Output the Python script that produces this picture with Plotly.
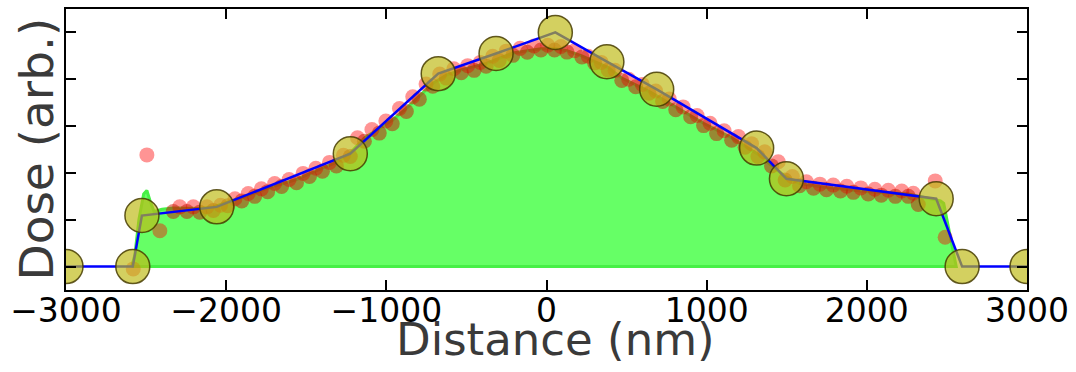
import plotly.graph_objects as go

# ---- data ----
# large control points (also the vertices of the blue profile line)
ctrl_x = [-3000, -2583, -2526, -2059, -1225, -676, -315, 55, 377, 688, 1312, 1498, 2433, 2595, 3000]
ctrl_y = [0.0, 0.0, 0.218, 0.255, 0.482, 0.824, 0.91, 1.0, 0.875, 0.757, 0.506, 0.375, 0.29, 0.0, 0.0]

# lower row of small dots (sit on the green area -> brownish)
low_x = [-2330, -2245, -2165, -2080, -1990, -1903, -1822, -1741, -1654, -1561, -1480, -1399,
         -1312, -1225, -1137, -1044, -963, -875, -794, -710, -625, -532, -452, -377, -295,
         -210, -120, -35, 50, 128, 221, 300, 385, 470, 557, 640, 725, 807, 900, 981, 1062,
         1156, 1240, 1320, 1405, 1490, 1580, 1667, 1748, 1835, 1916, 2009, 2090, 2178, 2259,
         2321]
low_y = [0.235, 0.235, 0.232, 0.24, 0.26, 0.28, 0.3, 0.32, 0.342, 0.358, 0.385, 0.407,
         0.43, 0.47, 0.535, 0.57, 0.61, 0.662, 0.715, 0.77, 0.805, 0.828, 0.838, 0.856, 0.88,
         0.902, 0.915, 0.925, 0.925, 0.916, 0.895, 0.87, 0.84, 0.795, 0.768, 0.74, 0.705, 0.67,
         0.64, 0.602, 0.568, 0.54, 0.51, 0.47, 0.43, 0.37, 0.345, 0.335, 0.328, 0.323, 0.317,
         0.31, 0.305, 0.3, 0.3, 0.265]

# upper row of small dots (mostly on white -> pink), plus stray points
up_x = [-2580, -2495, -2414, -2290, -2205, -2120, -2035, -1945, -1862, -1780, -1697, -1607,
        -1520, -1440, -1355, -1268, -1180, -1090, -1003, -918, -835, -752, -667, -578, -492,
        -414, -336, -252, -165, -78, 8, 90, 175, 260, 342, 428, 513, 598, 682, 766, 853, 940,
        1021, 1109, 1198, 1280, 1362, 1447, 1535, 1623, 1707, 1790, 1875, 1962, 2050, 2134,
        2218, 2290, 2427, 2489]
up_y = [-0.01, 0.477, 0.153, 0.255, 0.255, 0.255, 0.262, 0.29, 0.312, 0.332, 0.355, 0.372,
        0.398, 0.42, 0.445, 0.475, 0.55, 0.585, 0.622, 0.675, 0.725, 0.78, 0.822, 0.845, 0.858,
        0.872, 0.898, 0.92, 0.932, 0.942, 0.945, 0.94, 0.922, 0.898, 0.872, 0.838, 0.8, 0.778,
        0.75, 0.716, 0.682, 0.645, 0.612, 0.58, 0.555, 0.525, 0.49, 0.448, 0.385, 0.362, 0.352,
        0.348, 0.343, 0.336, 0.33, 0.326, 0.323, 0.313, 0.366, 0.125]

# green filled dose area (outline)
green_x = [-2590, -2570, -2545, -2515, -2495, -2475, -2450, -2400, -2330, -2165, -2080, -1990,
           -1903, -1741, -1561, -1399, -1312, -1225, -1137, -963, -875, -794, -710, -625, -532,
           -377, -210, -35, 50, 128, 221, 385, 470, 640, 807, 981, 1156, 1320, 1490, 1580, 1748,
           2009, 2259, 2380, 2460, 2480, 2558, 2558, -2590, -2590]
green_y = [0.0, 0.05, 0.2, 0.31, 0.325, 0.28, 0.235, 0.245, 0.25, 0.248, 0.255, 0.275,
           0.295, 0.335, 0.372, 0.42, 0.445, 0.485, 0.55, 0.625, 0.676, 0.728, 0.782, 0.818,
           0.84, 0.868, 0.912, 0.93, 0.93, 0.922, 0.9, 0.85, 0.805, 0.748, 0.68, 0.612, 0.55,
           0.48, 0.385, 0.355, 0.338, 0.32, 0.31, 0.29, 0.28, 0.27, 0.0, 0.0, 0.0, 0.0]

x_ticks = [-3000, -2000, -1000, 0, 1000, 2000, 3000]
x_tick_text = ["\u22123000", "\u22122000", "\u22121000", "0", "1000", "2000", "3000"]
y_ticks = [0, 0.2, 0.4, 0.6, 0.8, 1.0]

FONT = "DejaVu Sans"

fig = go.Figure()

fig.add_trace(go.Scatter(
    x=green_x, y=green_y, mode="lines", fill="toself",
    fillcolor="rgba(0,255,0,0.6)",
    line=dict(color="rgb(70,240,70)", width=3),
    hoverinfo="skip", showlegend=False))

fig.add_trace(go.Scatter(
    x=up_x, y=up_y, mode="markers",
    marker=dict(size=15, color="rgba(255,0,0,0.42)", line=dict(width=0)),
    showlegend=False))

fig.add_trace(go.Scatter(
    x=low_x, y=low_y, mode="markers",
    marker=dict(size=15, color="rgba(200,20,0,0.5)", line=dict(width=0)),
    showlegend=False))

fig.add_trace(go.Scatter(
    x=ctrl_x, y=ctrl_y, mode="lines",
    line=dict(color="rgb(0,0,255)", width=2.5),
    showlegend=False))

fig.add_trace(go.Scatter(
    x=ctrl_x, y=ctrl_y, mode="markers",
    marker=dict(size=34, color="rgba(190,185,20,0.68)",
                line=dict(color="rgba(70,60,0,0.85)", width=1.5)),
    showlegend=False))

fig.update_layout(
    width=1076, height=372,
    margin=dict(l=66, r=47, t=7, b=82),
    paper_bgcolor="white", plot_bgcolor="white",
    font=dict(family=FONT, color="black"),
    xaxis=dict(range=[-3000, 3000], tickvals=x_ticks, ticktext=x_tick_text,
               ticks="inside", ticklen=10, tickwidth=1.5, tickcolor="black",
               ticklabelstandoff=-10,
               showline=True, linecolor="black", linewidth=2, mirror="allticks",
               showgrid=False, zeroline=False,
               tickfont=dict(family=FONT, size=33, color="black")),
    yaxis=dict(range=[-0.1, 1.1], tickvals=y_ticks, showticklabels=False,
               ticks="inside", ticklen=10, tickwidth=1.5, tickcolor="black",
               showline=True, linecolor="black", linewidth=2, mirror="allticks",
               showgrid=False, zeroline=False),
    annotations=[
        dict(text="Distance (nm)", xref="paper", yref="paper",
             x=(557 - 66) / 963, y=(290 - 311) / 283, xanchor="center", yanchor="top",
             showarrow=False, font=dict(family=FONT, size=45, color="#3a3a3a")),
        dict(text="Dose (arb.)", xref="paper", yref="paper",
             x=(36 - 66) / 963, y=0.5, xanchor="center", yanchor="middle", textangle=-90,
             showarrow=False, font=dict(family=FONT, size=47, color="#3a3a3a")),
    ],
)

fig.write_html("out.html")
